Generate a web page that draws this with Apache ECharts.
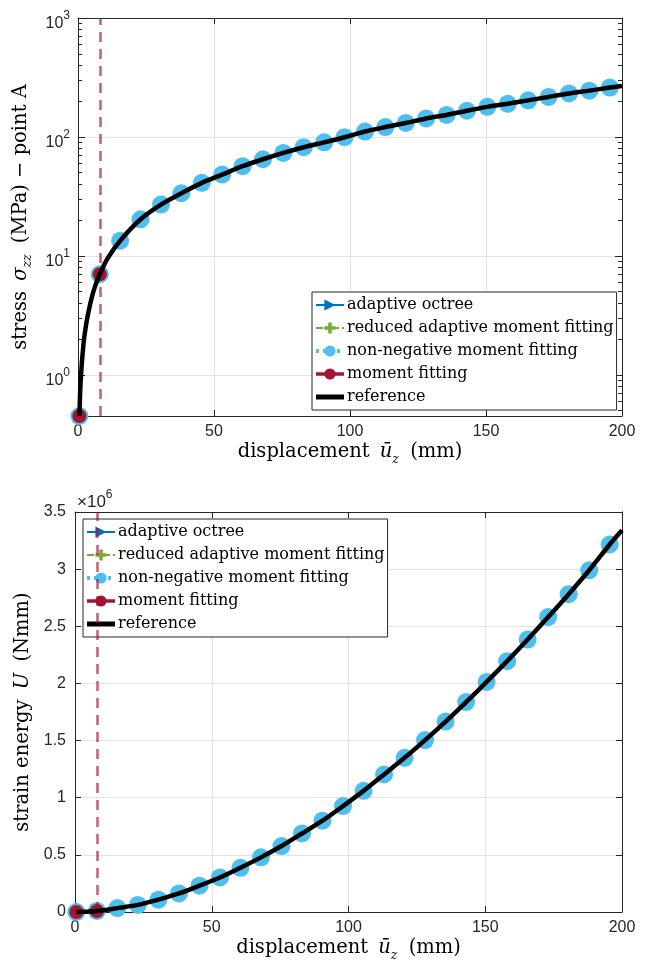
<!DOCTYPE html>
<html><head><meta charset="utf-8">
<script src="https://cdn.jsdelivr.net/npm/echarts@6/dist/echarts.min.js"></script>
<style>html,body{margin:0;padding:0;background:#fff}#c{width:646px;height:963px}</style>
</head><body><div id="c"></div>
<script>
// ---------------- data ----------------
const seriesNames = ['adaptive octree', 'reduced adaptive moment fitting', 'non-negative moment fitting', 'moment fitting', 'reference'];
// non-negative moment fitting (load steps)
const dispNN = [0.5, 8, 15.5, 23, 30.5, 38, 45.5, 53, 60.5, 68, 75.5, 83, 90.5, 98, 105.5, 113, 120.5, 128, 135.5, 143, 150.5, 158, 165.5, 173, 180.5, 188, 195.5];
const stressNN = [0.45, 7.0, 13.4, 20.3, 27.0, 33.6, 41.1, 48.2, 56.7, 64.9, 73.4, 81.9, 90, 99.4, 111, 121, 131, 143, 153, 166, 179, 190, 203, 217, 232, 245, 260];
const energyNN = [0, 0.009, 0.034, 0.062, 0.108, 0.162, 0.23, 0.302, 0.387, 0.478, 0.577, 0.687, 0.799, 0.927, 1.06, 1.204, 1.349, 1.504, 1.666, 1.837, 2.013, 2.195, 2.384, 2.581, 2.781, 2.99, 3.216];
// moment fitting (fails after second step)
const dispMF = [0.5, 8];
const stressMF = [0.45, 7.0];
const energyMF = [0, 0.009];
const failDisp = [8];
// reference solution
const dispRef = [0.5, 1, 2, 3, 4, 5, 6, 8, 11, 15.5, 23, 30.5, 38, 45.5, 53, 60.5, 68, 75.5, 83, 90.5, 98, 105.5, 113, 120.5, 128, 135.5, 143, 150.5, 158, 165.5, 173, 180.5, 188, 195.5, 200];
const stressRef = [0.45, 0.9, 1.8, 2.65, 3.5, 4.4, 5.3, 7.0, 9.6, 13.4, 20.3, 27.0, 33.6, 41.1, 48.2, 56.7, 64.9, 73.4, 81.9, 90, 99.4, 111, 121, 131, 143, 153, 166, 179, 190, 203, 217, 232, 245, 260, 268];
const energyRef = [0, 0.00015, 0.0006, 0.0013, 0.0023, 0.0035, 0.005, 0.009, 0.017, 0.034, 0.062, 0.108, 0.162, 0.23, 0.302, 0.387, 0.478, 0.577, 0.687, 0.799, 0.927, 1.06, 1.204, 1.349, 1.504, 1.666, 1.837, 2.013, 2.195, 2.384, 2.581, 2.781, 2.99, 3.216, 3.34];
// axes
const xRange = [0, 200];
const xInterval = 50;
const stressRange = [0.45, 1000];
const stressMinorTicks = [0.5, 0.6, 0.7, 0.8, 0.9, 2, 3, 4, 5, 6, 7, 8, 9, 20, 30, 40, 50, 60, 70, 80, 90, 200, 300, 400, 500, 600, 700, 800, 900];
const energyRange = [0, 3.5];
const energyInterval = 0.5;
const energyScaleLabel = ['×10', '6'];

// ---------------- style ----------------
const SANS = 'Liberation Sans';
const SERIF = 'DejaVu Serif';
const AX = '#262626';
const GRID = '#e3e3e3';
const C = { blue: '#0072BD', green: '#77AC30', cyan: '#4DBEEE', red: '#A2142F', black: '#000000' };
const zip = (a, b) => a.map((v, i) => [v, b[i]]);

const nameRich = {
  n: { fontFamily: SERIF, fontSize: 19.5, lineHeight: 28, color: '#000' },
  p: { fontFamily: SERIF, fontSize: 19.5, lineHeight: 28, color: '#000', padding: [0, 0, 0, 5] },
  m: { fontFamily: SERIF, fontStyle: 'italic', fontSize: 19.5, lineHeight: 28, color: '#000', padding: [0, 0, 0, 4] },
  s: { fontFamily: SERIF, fontStyle: 'italic', fontSize: 12.5, lineHeight: 14, verticalAlign: 'bottom', color: '#000' }
};
const tickLabel = { fontFamily: SANS, fontSize: 16, color: AX };

function xAxes(gi) {
  return [{
    type: 'value', gridIndex: gi, position: 'bottom', min: xRange[0], max: xRange[1], interval: xInterval,
    axisLine: { onZero: false, lineStyle: { color: AX, width: 1 } },
    axisTick: { inside: true, length: 6, lineStyle: { color: AX } },
    axisLabel: Object.assign({ margin: 8 }, tickLabel),
    splitLine: { show: true, lineStyle: { color: GRID, width: 1 } },
    name: '{n|displacement }{m|ū}{s|z}{p| (mm)}', nameLocation: 'middle', nameGap: 22,
    nameTextStyle: { rich: nameRich }
  }, {
    type: 'value', gridIndex: gi, position: 'top', min: xRange[0], max: xRange[1], interval: xInterval,
    axisLine: { onZero: false, lineStyle: { color: AX, width: 1 } },
    axisTick: { inside: true, length: 6, lineStyle: { color: AX } },
    axisLabel: { show: false }, splitLine: { show: false }
  }];
}

const logLabel = {
  fontFamily: SANS, color: AX, margin: 8, padding: [6, 0, 0, 0], showMinLabel: false,
  formatter: v => '{b|10}{e|' + Math.round(Math.log10(v)) + '}',
  rich: {
    b: { fontFamily: SANS, fontSize: 16, lineHeight: 22, verticalAlign: 'bottom', color: AX },
    e: { fontFamily: SANS, fontSize: 12, lineHeight: 12, verticalAlign: 'top', color: AX }
  }
};

function logAxis(pos, minor, withLabel) {
  const a = {
    type: 'log', logBase: 10, gridIndex: 0, position: pos, min: stressRange[0], max: stressRange[1],
    axisLine: { show: !minor, onZero: false, lineStyle: { color: AX, width: 1 } },
    axisTick: { inside: true, length: minor ? 4 : 7, lineStyle: { color: AX } },
    axisLabel: withLabel ? logLabel : { show: false },
    splitLine: { show: withLabel, lineStyle: { color: GRID, width: 1 } },
    minorTick: { show: false }
  };
  if (minor) a.axisTick.customValues = stressMinorTicks;
  if (withLabel) {
    a.name = '{n|stress }{m|σ}{s|zz}{p| (MPa) − point A}';
    a.nameLocation = 'middle'; a.nameGap = 35; a.nameTextStyle = { rich: nameRich };
  }
  return a;
}

function energyAxis(pos, withLabel) {
  const a = {
    type: 'value', gridIndex: 1, position: pos, min: energyRange[0], max: energyRange[1], interval: energyInterval,
    axisLine: { onZero: false, lineStyle: { color: AX, width: 1 } },
    axisTick: { inside: true, length: 6, lineStyle: { color: AX } },
    axisLabel: withLabel ? Object.assign({ margin: 9 }, tickLabel) : { show: false },
    splitLine: { show: withLabel, lineStyle: { color: GRID, width: 1 } }
  };
  if (withLabel) {
    a.name = '{n|strain energy }{m|U}{p| (Nmm)}';
    a.nameLocation = 'middle'; a.nameGap = 34; a.nameTextStyle = { rich: nameRich };
  }
  return a;
}

const triPath = 'path://M0,0L10,5L0,10Z';
const plusPath = 'path://M3.4,0H6.6V3.4H10V6.6H6.6V10H3.4V6.6H0V3.4H3.4Z';

function seriesFor(gi, nnY, mfY, refY) {
  const xi = gi * 2, yi = gi === 0 ? 0 : 4;
  return [
    { name: seriesNames[0], type: 'line', xAxisIndex: xi, yAxisIndex: yi, data: [],
      symbol: triPath, symbolSize: 12, itemStyle: { color: C.blue }, lineStyle: { color: C.blue, width: 3.5 } },
    { name: seriesNames[1], type: 'line', xAxisIndex: xi, yAxisIndex: yi, data: [],
      symbol: plusPath, symbolSize: 12, itemStyle: { color: C.green }, lineStyle: { color: C.green, width: 3, type: [7, 3, 3, 3] } },
    { name: seriesNames[2], type: 'line', xAxisIndex: xi, yAxisIndex: yi, data: zip(dispNN, nnY), z: 3,
      symbol: 'circle', symbolSize: 18, showSymbol: true, itemStyle: { color: C.cyan, opacity: 1 },
      lineStyle: { color: C.cyan, width: 3, type: 'dotted', opacity: 0 }, animation: false },
    { name: seriesNames[3], type: 'line', xAxisIndex: xi, yAxisIndex: yi, data: zip(dispMF, mfY), z: 4,
      symbol: 'circle', symbolSize: 14, showSymbol: true, itemStyle: { color: C.red, opacity: 1 },
      lineStyle: { color: C.red, width: 3, opacity: 0 }, animation: false,
      markLine: { silent: true, symbol: 'none', animation: false, label: { show: false },
        lineStyle: { color: 'rgba(162,20,47,0.68)', width: 2.5, type: [10, 7] },
        data: failDisp.map(v => ({ xAxis: v })) } },
    { name: seriesNames[4], type: 'line', xAxisIndex: xi, yAxisIndex: yi, data: zip(dispRef, refY), z: 6,
      symbol: 'none', showSymbol: false, smooth: 0.25,
      itemStyle: { color: C.black }, lineStyle: { color: C.black, width: 4.5, join: 'round' }, animation: false }
  ];
}

function legendAt(left, top) {
  return {
    orient: 'vertical', left: left, top: top, itemWidth: 28, itemHeight: 14, itemGap: 7,
    padding: [5, 3, 5, 2], borderColor: AX, borderWidth: 1, backgroundColor: '#fff',
    selectedMode: false,
    textStyle: { fontFamily: SERIF, fontSize: 16, color: '#000', padding: [0, 0, 0, -2] },
    data: [
      { name: seriesNames[0] },
      { name: seriesNames[1] },
      { name: seriesNames[2], lineStyle: { opacity: 1, width: 4, type: [3, 4] } },
      { name: seriesNames[3], lineStyle: { opacity: 1, width: 3.5 } },
      { name: seriesNames[4], icon: 'path://M0,0H28V5H0Z' }
    ]
  };
}

const option = {
  animation: false,
  backgroundColor: '#fff',
  grid: [
    { left: 78, right: 24, top: 18, height: 398 },
    { left: 75, right: 24, top: 512, height: 400 }
  ],
  xAxis: [].concat(xAxes(0), xAxes(1)),
  yAxis: [
    logAxis('left', false, true),
    logAxis('left', true, false),
    logAxis('right', false, false),
    logAxis('right', true, false),
    energyAxis('left', true),
    energyAxis('right', false)
  ],
  legend: [legendAt(312, 292), legendAt(83, 519)],
  graphic: [{
    type: 'text', left: 77, top: 489,
    style: {
      text: '{a|' + energyScaleLabel[0] + '}{e|' + energyScaleLabel[1] + '}',
      rich: {
        a: { fontFamily: SANS, fontSize: 17, lineHeight: 22, verticalAlign: 'bottom', fill: AX, color: AX },
        e: { fontFamily: SANS, fontSize: 12, lineHeight: 12, verticalAlign: 'top', fill: AX, color: AX }
      }
    }
  }],
  series: [].concat(
    seriesFor(0, stressNN, stressMF, stressRef),
    seriesFor(1, energyNN, energyMF, energyRef)
  )
};

const chart = echarts.init(document.getElementById('c'), null, { renderer: 'canvas' });
chart.setOption(option);
</script>
</body></html>
